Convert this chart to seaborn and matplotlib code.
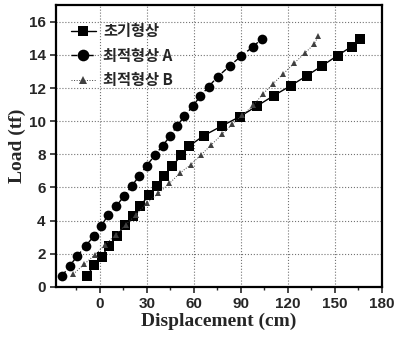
import matplotlib
matplotlib.use('Agg')
import matplotlib.pyplot as plt
import seaborn as sns
from matplotlib.ticker import MultipleLocator

# 초기형상 (squares)
init_x = [-8.5, -3.6, 1.1, 5.6, 10.7, 16, 21, 25.6, 31.5, 36.3, 40.8, 46.2, 52, 57, 66.2, 78, 89.3, 100, 111, 121.8, 131.9, 141.7, 151.7, 160.7, 166]
init_y = [0.66, 1.3, 1.83, 2.47, 3.07, 3.72, 4.28, 4.88, 5.55, 6.09, 6.7, 7.3, 7.93, 8.5, 9.12, 9.72, 10.27, 10.9, 11.54, 12.14, 12.73, 13.33, 13.96, 14.5, 14.96]

# 최적형상 A (circles)
optA_x = [-24, -19.2, -14.3, -9.1, -3.8, 0.9, 5.3, 10.5, 15.5, 20.3, 25.2, 29.8, 35, 40, 44.9, 49.1, 54, 59.3, 64, 69.4, 75.2, 82.9, 90.2, 97.9, 103.2]
optA_y = [0.68, 1.28, 1.88, 2.47, 3.07, 3.68, 4.34, 4.88, 5.49, 6.09, 6.7, 7.31, 7.93, 8.52, 9.1, 9.7, 10.3, 10.9, 11.5, 12.08, 12.68, 13.33, 13.93, 14.5, 14.96]

# 최적형상 B (triangles)
optB_x = [-17, -10, -3.3, 3.5, 10, 16.5, 23, 30, 37.4, 44.4, 51, 58, 64.5, 71, 78, 84.4, 91, 98, 104, 110.7, 117, 124, 130.8, 136.7, 139.5]
optB_y = [0.77, 1.37, 1.93, 2.55, 3.15, 3.75, 4.34, 5.05, 5.65, 6.25, 6.86, 7.38, 7.96, 8.56, 9.21, 9.8, 10.37, 10.95, 11.64, 12.27, 12.85, 13.5, 14.1, 14.64, 15.14]

labels = ['초기형상', '최적형상 A', '최적형상 B']

sns.set_style('ticks')
plt.rcParams['font.family'] = ['Liberation Sans', 'DejaVu Sans']

fig = plt.figure(figsize=(3.97, 3.4), dpi=100)
ax = fig.add_axes([0.141, 0.156, 0.821, 0.829])

sns.lineplot(x=init_x, y=init_y, ax=ax, color='black', lw=1.0, ls='-',
             marker='s', markersize=6.5, markeredgewidth=0, label=labels[0])
sns.lineplot(x=optA_x, y=optA_y, ax=ax, color='black', lw=1.0, ls=(0, (4, 2)),
             marker='o', markersize=7, markeredgewidth=0, label=labels[1])
sns.lineplot(x=optB_x, y=optB_y, ax=ax, color='0.25', lw=0.7, ls=':',
             marker='^', markersize=4.5, markeredgewidth=0, label=labels[2])

ax.set_xlim(-28, 180)
ax.set_ylim(0, 17)
ax.xaxis.set_major_locator(MultipleLocator(30))
ax.xaxis.set_minor_locator(MultipleLocator(15))
ax.yaxis.set_major_locator(MultipleLocator(2))
ax.grid(True, which='major', color='0.45', ls=':', lw=0.8)

for s in ax.spines.values():
    s.set_linewidth(1.6)
    s.set_color('black')
ax.tick_params(which='major', direction='out', length=4, width=1.2, labelsize=11)
ax.tick_params(which='minor', direction='out', length=2.5, width=1.0)
for t in ax.get_xticklabels() + ax.get_yticklabels():
    t.set_fontweight('bold')

ax.set_xlabel('Displacement (cm)', family='Liberation Serif', fontweight='bold', fontsize=14, labelpad=1)
ax.set_ylabel('Load (tf)', family='Liberation Serif', fontweight='bold', fontsize=14, labelpad=2)

leg = ax.legend(loc='upper left', frameon=False, handlelength=1.6, handletextpad=0.5,
                borderaxespad=0.6, labelspacing=0.55, bbox_to_anchor=(0.0, 0.99), markerscale=1.2,
                prop={'family': ['Noto Sans CJK KR', 'DejaVu Sans'], 'weight': 'bold', 'size': 11})

fig.savefig('out.png', dpi=100)
